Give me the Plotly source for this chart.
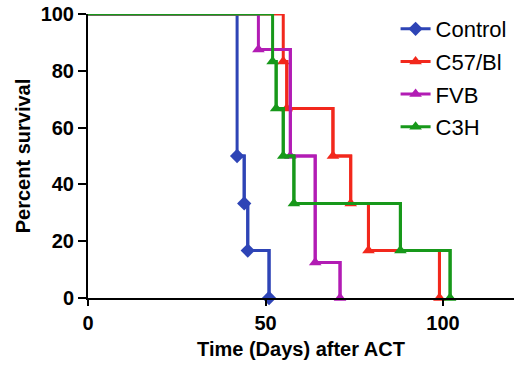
import plotly.graph_objects as go

# Kaplan-Meier survival data (time in days, percent survival)
series_names = ["Control", "C57/Bl", "FVB", "C3H"]
control_t = [0, 42, 44, 45, 51]
control_s = [100, 50, 33.3, 16.7, 0]
c57_t = [0, 55, 56, 69, 74, 79, 99]
c57_s = [100, 83.3, 66.7, 50, 33.3, 16.7, 0]
fvb_t = [0, 48, 57, 64, 71]
fvb_s = [100, 87.5, 50, 12.5, 0]
c3h_t = [0, 52, 53, 55, 58, 88, 102]
c3h_s = [100, 83.3, 66.7, 50, 33.3, 16.7, 0]

x_ticks = [0, 50, 100]
y_ticks = [0, 20, 40, 60, 80, 100]

colors = ["#2E44B6", "#F2281C", "#B21CB4", "#17981A"]
symbols = ["diamond", "triangle-up", "triangle-up", "triangle-up"]
data = [(control_t, control_s), (c57_t, c57_s), (fvb_t, fvb_s), (c3h_t, c3h_s)]

fig = go.Figure()
for i, (name, (t, s)) in enumerate(zip(series_names, data)):
    fig.add_trace(go.Scatter(
        x=t, y=s, mode="lines", line=dict(color=colors[i], width=3, shape="hv"),
        showlegend=False, hoverinfo="skip", cliponaxis=False))
    fig.add_trace(go.Scatter(
        x=t[1:], y=s[1:], mode="lines+markers", name=name,
        legendgroup=name,
        line=dict(color=colors[i], width=3, shape="hv"),
        marker=dict(symbol=symbols[i], size=11, color=colors[i]),
        cliponaxis=False))

axis_font = dict(family="Liberation Sans, Arial, sans-serif", size=20, color="black")
fig.update_layout(
    width=520, height=365,
    margin=dict(l=88, r=6, t=14, b=67, autoexpand=False),
    plot_bgcolor="white", paper_bgcolor="white",
    font=dict(family="Liberation Sans, Arial, sans-serif", color="black"),
    xaxis=dict(range=[0, 120], tickvals=x_ticks, ticktext=[f"<b>{v}</b>" for v in x_ticks],
               showgrid=False, zeroline=False, showline=True, linecolor="black", linewidth=2,
               ticks="outside", ticklen=6, tickwidth=2, tickcolor="black",
               tickfont=axis_font, ticklabelstandoff=0, automargin=False,
               title=dict(text="<b>Time (Days) after ACT</b>", font=dict(size=20), standoff=9)),
    yaxis=dict(range=[0, 100], tickvals=y_ticks, ticktext=[f"<b>{v}</b>" for v in y_ticks],
               showgrid=False, zeroline=False, showline=True, linecolor="black", linewidth=2,
               ticks="outside", ticklen=8, tickwidth=2, tickcolor="black",
               tickfont=axis_font, automargin=False, ticklabeloverflow="allow",
               title=dict(text="<b>Percent survival</b>", font=dict(size=20), standoff=5)),
    legend=dict(x=0.722, y=1.021, xanchor="left", yanchor="top", bgcolor="rgba(0,0,0,0)",
                font=dict(size=22), tracegroupgap=1, traceorder="grouped"),
)

fig.write_html("out.html", config={"displayModeBar": False},
               post_script="document.body.style.margin='0';")
